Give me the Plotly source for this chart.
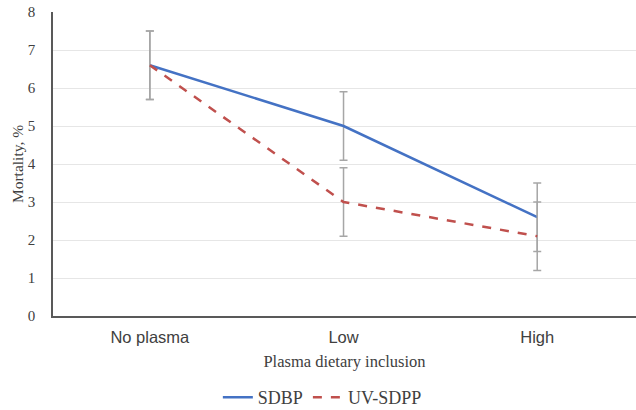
import plotly.graph_objects as go

categories = ["No plasma", "Low", "High"]
sdbp = [6.6, 5.0, 2.6]
uv_sdpp = [6.6, 3.0, 2.1]
sdbp_err = [0.9, 0.9, 0.9]
uv_err = [0.9, 0.9, 0.9]
y_ticks = [0, 1, 2, 3, 4, 5, 6, 7, 8]

xpos = list(range(len(categories)))

fig = go.Figure()
fig.add_trace(go.Scatter(
    x=xpos, y=sdbp, mode="lines", name="SDBP",
    line=dict(color="#4472C4", width=2.5),
    error_y=dict(type="data", array=sdbp_err, visible=True, color="#A6A6A6", thickness=1.5, width=4),
))
fig.add_trace(go.Scatter(
    x=xpos, y=uv_sdpp, mode="lines", name="UV-SDPP",
    line=dict(color="#C0504D", width=2.5, dash="dash"),
    error_y=dict(type="data", array=uv_err, visible=True, color="#A6A6A6", thickness=1.5, width=4),
))

fig.update_layout(
    width=636, height=410,
    margin=dict(l=53, r=0, t=12, b=94, autoexpand=False),
    paper_bgcolor="white", plot_bgcolor="white",
    showlegend=True,
    legend=dict(orientation="h", x=0.462, xanchor="center", y=-0.268, yanchor="middle",
                font=dict(family="Liberation Serif", size=18, color="#404040"),
                borderwidth=0, tracegroupgap=0),
    xaxis=dict(
        tickmode="array", tickvals=xpos, ticktext=categories,
        range=[-0.5, 2.51], showgrid=False, zeroline=False, automargin=False,
        showline=True, linecolor="#595959", linewidth=1.5,
        ticks="", ticklabelstandoff=5,
        tickfont=dict(family="Liberation Sans", size=16.5, color="#404040"),
        title=dict(text="Plasma dietary inclusion", standoff=11,
                   font=dict(family="Liberation Serif", size=16.5, color="#404040")),
    ),
    yaxis=dict(
        range=[0, 8], tickvals=y_ticks, showgrid=True, gridcolor="#E6E6E6", gridwidth=1,
        zeroline=False, showline=True, linecolor="#595959", linewidth=1.5, automargin=False,
        ticks="", ticklabelstandoff=13,
        tickfont=dict(family="Liberation Serif", size=15, color="#404040"),
        title=dict(text="Mortality, %", standoff=0,
                   font=dict(family="Liberation Serif", size=15.5, color="#404040")),
    ),
)

fig.write_html("out.html", config={"displayModeBar": False},
               post_script="document.body.style.margin='0';")
